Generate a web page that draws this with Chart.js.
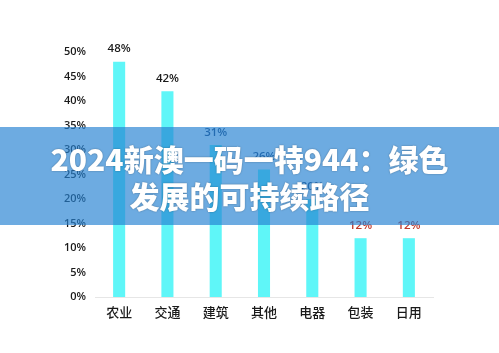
<!DOCTYPE html>
<html>
<head>
<meta charset="utf-8">
<script src="https://cdn.jsdelivr.net/npm/chart.js@4/dist/chart.umd.min.js"></script>
<style>
  html, body { margin: 0; padding: 0; background: #fff; }
  #wrap { position: relative; width: 499px; height: 353px; overflow: hidden; }
  #banner {
    position: absolute; left: 0; top: 127px; width: 499px; height: 98px;
    background: rgba(38, 130, 210, 0.67);
    color: #fff; text-align: center;
    font-family: "Noto Sans CJK SC", sans-serif; font-weight: 900;
    font-size: 30px; line-height: 37px;
    padding-top: 13px; box-sizing: border-box;
    text-shadow: 0 0 2px rgba(0,0,0,0.35);
  }
</style>
</head>
<body>
<div id="wrap">
  <canvas id="chart" width="499" height="353"></canvas>
  <div id="banner">2024新澳一码一特944：绿色<br>发展的可持续路径</div>
</div>
<script>
const categories = ['农业', '交通', '建筑', '其他', '电器', '包装', '日用'];
const shares = [48, 42, 31, 26, 20, 12, 12];
const labelColors = ['#1a1a1a', '#1a1a1a', '#1f3f6e', '#1f3f6e', '#1f3f6e', '#c0392b', '#c0392b'];

// draws the percent values above each bar
const valueLabels = {
    id: 'valueLabels',
    afterDatasetsDraw(chart) {
        const ctx = chart.ctx;
        const meta = chart.getDatasetMeta(0);
        ctx.save();
        ctx.font = '600 11.5px "Open Sans", sans-serif';
        ctx.textAlign = 'center';
        ctx.textBaseline = 'bottom';
        meta.data.forEach((bar, i) => {
            ctx.fillStyle = labelColors[i];
            ctx.fillText(shares[i] + '%', bar.x, bar.y - 7);
        });
        ctx.restore();
    }
};

new Chart(document.getElementById('chart'), {
    type: 'bar',
    data: {
        labels: categories,
        datasets: [{
            data: shares,
            backgroundColor: '#5ff6f8',
            barPercentage: 0.25,
            categoryPercentage: 1
        }]
    },
    options: {
        responsive: false,
        animation: false,
        events: [],
        layout: { padding: { top: 52, right: 66, left: 0, bottom: 0 } },
        plugins: { legend: { display: false }, tooltip: { enabled: false } },
        scales: {
            x: {
                grid: { display: false, drawTicks: false },
                border: { color: '#e6e6e6' },
                ticks: { color: '#1a1a1a', font: { family: '"Noto Sans CJK SC"', size: 13, weight: '500' }, padding: 7 },
                afterFit(scale) { scale.height = 56; }
            },
            y: {
                min: 0, max: 50,
                grid: { display: false, drawTicks: false },
                border: { display: false },
                ticks: {
                    stepSize: 5,
                    color: '#1a1a1a',
                    padding: 9,
                    font: { family: '"Open Sans"', size: 11, weight: '600' },
                    callback: (v) => v + '%'
                },
                afterFit(scale) { scale.width = 95; }
            }
        }
    },
    plugins: [valueLabels]
});
</script>
</body>
</html>
